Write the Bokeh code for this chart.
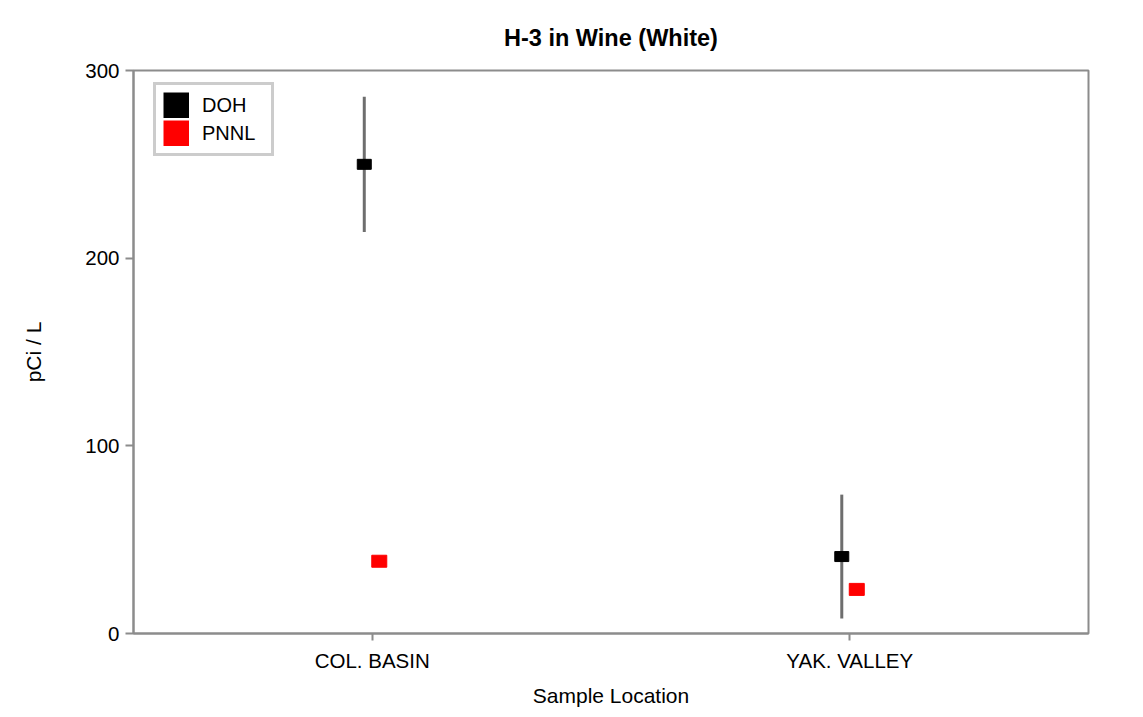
from bokeh.plotting import figure
from bokeh.models import ColumnDataSource, FactorRange, Range1d, FixedTicker, Legend, LegendItem
from bokeh.transform import dodge
from bokeh.embed import file_html
from bokeh.resources import INLINE

# ---- data ----
locations = ["COL. BASIN", "YAK. VALLEY"]
doh_values = [250, 41]
doh_lower = [214, 8]
doh_upper = [286, 74]
pnnl_values = [38.5, 23.5]
y_ticks = [0, 100, 200, 300]

title_text = "H-3 in Wine (White)"
x_label = "Sample Location"
y_label = "pCi / L"

FONT = "Liberation Sans"
GRAY = "#8c8c8c"

doh_src = ColumnDataSource(dict(loc=locations, val=doh_values, lo=doh_lower, hi=doh_upper))
pnnl_src = ColumnDataSource(dict(loc=locations, val=pnnl_values))

p = figure(
    width=1135, height=709,
    x_range=FactorRange(factors=locations, range_padding=0),
    y_range=Range1d(0, 300),
    output_backend="svg", toolbar_location=None,
    min_border_left=133, min_border_right=47, min_border_top=70, min_border_bottom=76,
)

p.title.text = title_text
p.title.align = "center"
p.title.text_font = FONT
p.title.text_font_size = "23.5px"
p.title.text_font_style = "bold"
p.title.text_color = "black"
p.title.standoff = 39

p.grid.visible = False
p.outline_line_color = GRAY
p.outline_line_width = 2
p.background_fill_color = "white"
p.border_fill_color = "white"

for ax in (p.xaxis[0], p.yaxis[0]):
    ax.axis_line_color = GRAY
    ax.axis_line_width = 2
    ax.major_tick_line_color = GRAY
    ax.major_tick_line_width = 2
    ax.major_tick_in = 0
    ax.minor_tick_line_color = None
    ax.major_label_text_font = FONT
    ax.major_label_text_font_size = "20.5px"
    ax.major_label_text_color = "black"
    ax.axis_label_text_font = FONT
    ax.axis_label_text_font_size = "21px"
    ax.axis_label_text_font_style = "normal"
    ax.axis_label_text_color = "black"

p.xaxis.axis_label = x_label
p.xaxis.major_tick_out = 7
p.xaxis.major_label_standoff = 8
p.xaxis.axis_label_standoff = 9
p.xaxis.major_label_orientation = "horizontal"

p.yaxis.axis_label = y_label
p.yaxis.ticker = FixedTicker(ticks=y_ticks)
p.yaxis.major_tick_out = 8
p.yaxis.major_label_standoff = 6
p.yaxis.axis_label_standoff = 37

doh_x = dodge("loc", -0.0167, range=p.x_range)
pnnl_x = dodge("loc", 0.0147, range=p.x_range)

p.segment(x0=doh_x, y0="lo", x1=doh_x, y1="hi", source=doh_src,
          line_color="#6e6e6e", line_width=3)
p.rect(x=doh_x, y="val", width=14, height=10, width_units="screen", height_units="screen",
       source=doh_src, fill_color="black", line_color="black", line_width=1)
p.rect(x=pnnl_x, y="val", width=15, height=12, width_units="screen", height_units="screen",
       source=pnnl_src, fill_color="red", line_color="red", line_width=1)

# legend swatches: solid square keys (thick-stroke line legend; renderer itself hidden)
key_doh = p.line(x="loc", y="val", source=doh_src, line_color="black",
                 line_width=26, line_cap="butt", visible=False)
key_pnnl = p.line(x="loc", y="val", source=pnnl_src, line_color="red",
                  line_width=26, line_cap="butt", visible=False)

legend = Legend(items=[LegendItem(label="DOH", renderers=[key_doh]),
                       LegendItem(label="PNNL", renderers=[key_pnnl])],
                location=(20, 477))
legend.glyph_width = 26
legend.glyph_height = 26
legend.spacing = 2
legend.padding = 7
legend.margin = 0
legend.label_standoff = 13
legend.label_width = 62
legend.label_text_font = FONT
legend.label_text_font_size = "20px"
legend.label_text_color = "black"
legend.border_line_color = "#999999"
legend.border_line_width = 3
legend.background_fill_color = "white"
legend.inactive_fill_alpha = 0
p.add_layout(legend, "center")

open("out.html", "w").write(file_html(p, INLINE))
